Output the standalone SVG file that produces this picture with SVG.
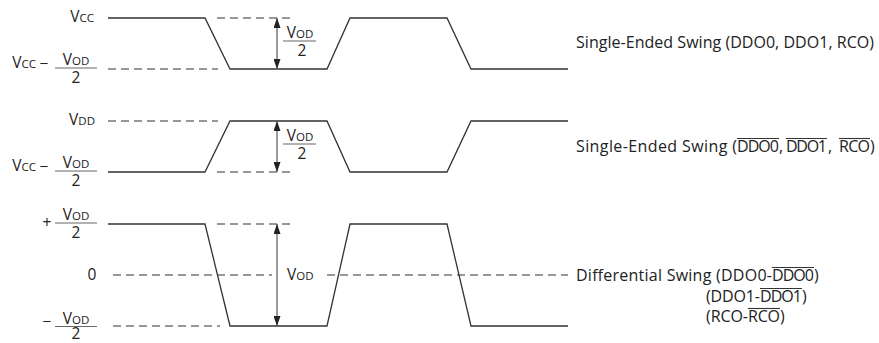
<svg xmlns="http://www.w3.org/2000/svg" width="879" height="343" viewBox="0 0 879 343">
<defs>
<marker id="ah" viewBox="0 0 10 7" refX="10" refY="3.5" markerWidth="10" markerHeight="7" markerUnits="userSpaceOnUse" orient="auto-start-reverse">
<path d="M0,0 L10,3.5 L0,7 Z" fill="#222"/>
</marker>
</defs>
<style>
.w{fill:none;stroke:#333;stroke-width:1.3;stroke-linejoin:miter}
.d{fill:none;stroke:#333;stroke-width:1.1;stroke-dasharray:8 5}
.a{fill:none;stroke:#666;stroke-width:1.3;marker-start:url(#ah);marker-end:url(#ah)}
.bar{stroke:#666;stroke-width:1.2}
.ov{stroke:#333;stroke-width:1.1}
text{font-family:"Open Sans","Noto Sans","Liberation Sans",sans-serif;fill:#222}
.L{font-size:15.5px}
.s{font-size:11.5px}
.R{font-size:16px}
</style>
<g id="connectors">
<polyline class="w" points="108,18 205,18 230,69 327,69 350,18 447,18 471,69 568,69"/>
<line class="d" x1="217" y1="18" x2="290" y2="18"/>
<line class="d" x1="108" y1="69" x2="218" y2="69"/>
<line class="a" x1="277" y1="18" x2="277" y2="69"/>
<polyline class="w" points="108,172 205,172 230,121 327,121 350,172 447,172 471,121 568,121"/>
<line class="d" x1="108" y1="121" x2="218" y2="121"/>
<line class="d" x1="217" y1="172" x2="290" y2="172"/>
<line class="a" x1="277" y1="121" x2="277" y2="172"/>
<polyline class="w" points="108,224 205,224 230,326 327,326 350,224 447,224 471,326 568,326"/>
<line class="d" x1="217" y1="224" x2="290" y2="224"/>
<line class="d" x1="113" y1="326" x2="220" y2="326"/>
<line class="d" x1="113" y1="275" x2="272" y2="275"/>
<line class="d" x1="327" y1="275" x2="568" y2="275"/>
<line class="a" x1="277" y1="224" x2="277" y2="326"/>
</g>
<g id="label-vcc">
<text class="L" x="94" y="22" text-anchor="end">V<tspan class="s">CC</tspan></text>
</g>
<g id="label-vcc-vod2-1">
<text class="L" x="36" y="68" text-anchor="end">V<tspan class="s">CC</tspan></text>
<text class="L" x="44" y="69" text-anchor="middle">−</text>
<text class="L" x="76" y="65" text-anchor="middle">V<tspan class="s">OD</tspan></text>
<line class="bar" x1="55" y1="68" x2="97" y2="68"/>
<text class="L" x="76" y="83" text-anchor="middle">2</text>
</g>
<g id="label-vod2-1">
<text class="L" x="300" y="38" text-anchor="middle">V<tspan class="s">OD</tspan></text>
<line class="bar" x1="283" y1="41" x2="316" y2="41"/>
<text class="L" x="302" y="56" text-anchor="middle">2</text>
</g>
<g id="label-vdd">
<text class="L" x="95" y="125" text-anchor="end">V<tspan class="s">DD</tspan></text>
</g>
<g id="label-vcc-vod2-2">
<text class="L" x="36" y="171" text-anchor="end">V<tspan class="s">CC</tspan></text>
<text class="L" x="44" y="172" text-anchor="middle">−</text>
<text class="L" x="76" y="168" text-anchor="middle">V<tspan class="s">OD</tspan></text>
<line class="bar" x1="55" y1="171" x2="97" y2="171"/>
<text class="L" x="76" y="186" text-anchor="middle">2</text>
</g>
<g id="label-vod2-2">
<text class="L" x="300" y="141" text-anchor="middle">V<tspan class="s">OD</tspan></text>
<line class="bar" x1="283" y1="144" x2="316" y2="144"/>
<text class="L" x="302" y="159" text-anchor="middle">2</text>
</g>
<g id="label-plus-vod2">
<text class="L" x="47" y="228" text-anchor="middle">+</text>
<text class="L" x="76" y="220" text-anchor="middle">V<tspan class="s">OD</tspan></text>
<line class="bar" x1="55" y1="223" x2="97" y2="223"/>
<text class="L" x="76" y="238" text-anchor="middle">2</text>
</g>
<g id="label-zero">
<text class="L" x="92" y="280" text-anchor="middle">0</text>
</g>
<g id="label-minus-vod2">
<text class="L" x="47" y="327" text-anchor="middle">−</text>
<text class="L" x="76" y="323.5" text-anchor="middle">V<tspan class="s">OD</tspan></text>
<line class="bar" x1="55" y1="326.5" x2="97" y2="326.5"/>
<text class="L" x="76" y="339" text-anchor="middle">2</text>
</g>
<g id="label-vod">
<text class="L" x="287" y="280">V<tspan class="s">OD</tspan></text>
</g>
<g id="label-se1">
<text class="R" x="576" y="48" textLength="298">Single-Ended Swing (DDO0, DDO1, RCO)</text>
</g>
<g id="label-se2">
<text class="R" y="152"><tspan x="576" textLength="161">Single-Ended Swing (</tspan><tspan x="737" textLength="42">DDO0</tspan><tspan x="779">,</tspan><tspan x="786" textLength="41">DDO1</tspan><tspan x="828">,</tspan><tspan x="839" textLength="31">RCO</tspan><tspan x="870">)</tspan></text>
<line class="ov" x1="737" y1="138.5" x2="779" y2="138.5"/>
<line class="ov" x1="786" y1="138.5" x2="827" y2="138.5"/>
<line class="ov" x1="839" y1="138.5" x2="870" y2="138.5"/>
</g>
<g id="label-diff">
<text class="R" y="281"><tspan x="576" textLength="196">Differential Swing (DDO0-</tspan><tspan x="772" textLength="42">DDO0</tspan><tspan x="814">)</tspan></text>
<line class="ov" x1="772" y1="267.5" x2="814" y2="267.5"/>
<text class="R" y="302"><tspan x="706" textLength="54">(DDO1-</tspan><tspan x="760" textLength="42">DDO1</tspan><tspan x="802">)</tspan></text>
<line class="ov" x1="760" y1="288.5" x2="802" y2="288.5"/>
<text class="R" y="322"><tspan x="706" textLength="42">(RCO-</tspan><tspan x="748" textLength="32">RCO</tspan><tspan x="780">)</tspan></text>
<line class="ov" x1="748" y1="308.5" x2="780" y2="308.5"/>
</g>
</svg>
